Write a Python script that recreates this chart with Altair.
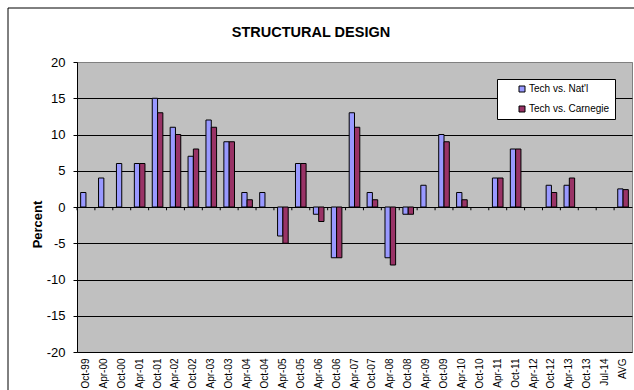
import altair as alt
import pandas as pd

# Survey dates (semiannual) plus the overall average
categories = [
    "Oct-99", "Apr-00", "Oct-00", "Apr-01", "Oct-01", "Apr-02", "Oct-02",
    "Apr-03", "Oct-03", "Apr-04", "Oct-04", "Apr-05", "Oct-05", "Apr-06",
    "Oct-06", "Apr-07", "Oct-07", "Apr-08", "Oct-08", "Apr-09", "Oct-09",
    "Apr-10", "Oct-10", "Apr-11", "Oct-11", "Apr-12", "Oct-12", "Apr-13",
    "Oct-13", "Jul-14", "AVG",
]
series = ["Tech vs. Nat'l", "Tech vs. Carnegie"]
colors = ["#9999FF", "#993366"]
chart_title = "STRUCTURAL DESIGN"

# Percent differences (None = no value reported)
tech_vs_natl = [
    2, 4, 6, 6, 15, 11, 7, 12, 9, 2, 2, -4, 6, -1, -7, 13, 2, -7, -1, 3, 10,
    2, None, 4, 8, None, 3, 3, None, None, 2.5,
]
tech_vs_carnegie = [
    None, None, None, 6, 13, 10, 8, 11, 9, 1, None, -5, 6, -2, -7, 11, 1, -8,
    -1, None, 9, 1, None, 4, 8, None, 2, 4, None, None, 2.4,
]

rows = []
for cat, a, b in zip(categories, tech_vs_natl, tech_vs_carnegie):
    if a is not None:
        rows.append({"category": cat, "series": series[0], "value": a})
    if b is not None:
        rows.append({"category": cat, "series": series[1], "value": b})
df = pd.DataFrame(rows)
cats_df = pd.DataFrame({"category": categories})

font = "Liberation Sans"


def x_enc(**kw):
    return alt.X(
        "category:N",
        sort=categories,
        scale=alt.Scale(domain=categories, paddingInner=0, paddingOuter=0),
        axis=alt.Axis(
            title=None,
            labelAngle=270,
            labelFontSize=10,
            labelPadding=6,
            ticks=False,
            domain=False,
            grid=False,
            labelColor="black",
            labelFont=font,
        ),
        **kw,
    )


y_scale = alt.Scale(domain=[-20, 20], nice=False)
y_axis = alt.Axis(
    title="Percent",
    values=list(range(-20, 21, 5)),
    labelExpr="datum.value < 0 ? '-' + abs(datum.value) : '' + datum.value",
    labelOverlap=False,
    labelFontSize=13,
    labelPadding=8,
    labelColor="black",
    labelFont=font,
    tickSize=4,
    tickColor="black",
    domainColor="black",
    grid=True,
    gridColor={"condition": {"test": "datum.value === 20", "value": "#808080"}, "value": "black"},
    gridWidth=1,
    titleFontSize=13,
    titleFontWeight="bold",
    titleFont=font,
    titleColor="black",
    titleAngle=270,
    titleAlign="center",
    titleBaseline="middle",
    titleX=-40,
    titleY=162,
)

bars = alt.Chart(df).mark_bar(stroke="black", strokeWidth=1).encode(
    x=x_enc(),
    xOffset=alt.XOffset(
        "series:N",
        sort=series,
        scale=alt.Scale(domain=series, paddingInner=0, paddingOuter=0.686),
    ),
    y=alt.Y("value:Q", scale=y_scale, axis=y_axis),
    color=alt.Color(
        "series:N",
        sort=series,
        scale=alt.Scale(domain=series, range=colors),
        legend=alt.Legend(
            title=None,
            orient="none",
            legendX=420,
            legendY=17,
            fillColor="white",
            strokeColor="black",
            padding=5,
            symbolType="square",
            symbolSize=36,
            symbolStrokeColor="black",
            symbolStrokeWidth=1,
            symbolOffset=15,
            labelFontSize=10,
            labelFont=font,
            labelColor="black",
            labelOffset=2,
            rowPadding=10,
        ),
    ),
)

# Small tick marks on the zero line at category boundaries
ticks = alt.Chart(cats_df).mark_rule(color="black", strokeWidth=1).encode(
    x=x_enc(bandPosition=0),
    y=alt.datum(0, scale=y_scale, axis=y_axis),
    y2=alt.datum(-0.45),
)

# Outer chart frame
frame = alt.Chart(alt.Data(values=[{}])).mark_rect(
    fillOpacity=0, stroke="black", strokeWidth=1
).encode(
    x=alt.value(-69), x2=alt.value(565), y=alt.value(-54), y2=alt.value(335)
)

# Chart heading
heading = alt.Chart(alt.Data(values=[{}])).mark_text(
    text=chart_title,
    font=font,
    fontSize=14.5,
    fontWeight="bold",
    color="black",
    align="center",
    baseline="alphabetic",
).encode(x=alt.value(234), y=alt.value(-25))

chart = (
    alt.layer(frame, bars, ticks, heading)
    .properties(
        width=555,
        height=290,
        autosize=alt.AutoSizeParams(type="none"),
        padding={"left": 77, "top": 62, "right": 2, "bottom": 38},
        background="white",
    )
    .configure_view(fill="#C0C0C0", stroke="#808080", strokeWidth=1)
)

chart.save("out.html", embed_options={"renderer": "svg", "actions": False})
